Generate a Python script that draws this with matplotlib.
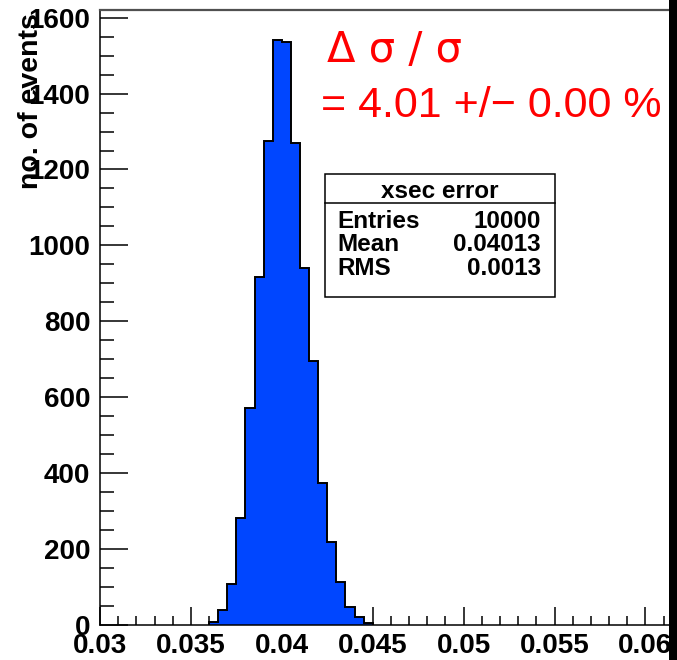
import matplotlib
matplotlib.use('Agg')
import matplotlib.pyplot as plt
from matplotlib.patches import Rectangle
from matplotlib.lines import Line2D
from matplotlib.ticker import FixedLocator, MultipleLocator

# ---- data ----
bin_low_edges = [0.0360, 0.0365, 0.0370, 0.0375, 0.0380, 0.0385, 0.0390, 0.0395, 0.0400,
                 0.0405, 0.0410, 0.0415, 0.0420, 0.0425, 0.0430, 0.0435, 0.0440, 0.0445]
bin_width = 0.0005
counts = [9, 40, 108, 283, 572, 918, 1274, 1541, 1537,
          1271, 941, 695, 374, 219, 112, 48, 20, 4]
x_ticks = [0.03, 0.035, 0.04, 0.045, 0.05, 0.055, 0.06]
x_tick_labels = ['0.03', '0.035', '0.04', '0.045', '0.05', '0.055', '0.06']
y_ticks = [0, 200, 400, 600, 800, 1000, 1200, 1400, 1600]
y_tick_labels = ['0', '200', '400', '600', '800', '1000', '1200', '1400', '1600']
y_label = 'no. of events'
stats_title = 'xsec error'
stats_labels = ['Entries', 'Mean', 'RMS']
stats_values = ['10000', '0.04013', '0.0013']
annot_line1 = 'Δ σ / σ'
annot_line2 = '= 4.01 +/− 0.00 %'

W, H = 677, 660
def fx(px):
    return px / W
def fy(py):
    return 1 - py / H

plt.rcParams['font.family'] = ['Liberation Sans', 'DejaVu Sans']

fig = plt.figure(figsize=(W / 100, H / 100), dpi=100)
ax_left, ax_right, ax_top, ax_bottom = 100, 677, 10, 625
ax = fig.add_axes([fx(ax_left), fy(ax_bottom), fx(ax_right - ax_left), (ax_bottom - ax_top) / H])

edges = bin_low_edges + [bin_low_edges[-1] + bin_width]
ax.stairs(counts, edges, fill=True, color='#0046ff', zorder=2)
ax.stairs(counts, edges, baseline=0, color='black', linewidth=1.4, zorder=3)

ax.set_xlim(0.03, 0.03 + (ax_right - ax_left) / 18180)
ax.set_ylim(0, (ax_bottom - ax_top) / 0.3796)

ax.xaxis.set_major_locator(FixedLocator(x_ticks))
ax.set_xticklabels(x_tick_labels)
ax.xaxis.set_minor_locator(MultipleLocator(0.001))
ax.yaxis.set_major_locator(FixedLocator(y_ticks))
ax.set_yticklabels(y_tick_labels)
ax.yaxis.set_minor_locator(MultipleLocator(50))

ax.tick_params(axis='both', which='both', direction='in', top=False, right=False,
               width=1.1, color='black')
ax.tick_params(axis='y', which='major', length=20, pad=7)
ax.tick_params(axis='y', which='minor', length=10)
ax.tick_params(axis='x', which='major', length=13, pad=5.5)
ax.tick_params(axis='x', which='minor', length=6.5)
for lab in ax.get_xticklabels() + ax.get_yticklabels():
    lab.set_fontsize(20)
    lab.set_fontweight('bold')

ax.spines['right'].set_visible(False)
ax.spines['top'].set_color('#505050')
ax.spines['top'].set_linewidth(1.6)
ax.spines['left'].set_linewidth(1.1)
ax.spines['bottom'].set_linewidth(1.1)

# y axis title
fig.text(fx(31), fy(13), y_label, rotation=90, ha='center', va='top',
         fontsize=20.5, fontweight='bold')

# red annotation
fig.text(fx(327), fy(62), annot_line1, color='red', fontsize=30, ha='left', va='baseline',
         family=['DejaVu Sans'])
fig.text(fx(321), fy(117), annot_line2, color='red', fontsize=31, ha='left', va='baseline')

# stats box
bx0, by0, bx1, by1, bsep = 325, 174, 555, 297, 203
fig.add_artist(Rectangle((fx(bx0), fy(by1)), fx(bx1 - bx0), (by1 - by0) / H,
                         facecolor='white', edgecolor='black', linewidth=1.1,
                         transform=fig.transFigure, zorder=5))
fig.add_artist(Line2D([fx(bx0), fx(bx1)], [fy(bsep), fy(bsep)], color='black',
                      linewidth=1.1, transform=fig.transFigure, zorder=6))
fig.text(fx((bx0 + bx1) / 2), fy(198), stats_title, ha='center', va='baseline',
         fontsize=17.5, fontweight='bold', zorder=7)
row_baselines = [228, 251, 275]
for lab, val, yb in zip(stats_labels, stats_values, row_baselines):
    fig.text(fx(337), fy(yb), lab, ha='left', va='baseline', fontsize=17.5,
             fontweight='bold', zorder=7)
    fig.text(fx(541), fy(yb), val, ha='right', va='baseline', fontsize=17.5,
             fontweight='bold', zorder=7)

# black strip at the right edge
fig.add_artist(Rectangle((fx(669), 0), fx(8), 1, facecolor='black', edgecolor='none',
                         transform=fig.transFigure, zorder=10))

fig.savefig('out.png', dpi=100)
